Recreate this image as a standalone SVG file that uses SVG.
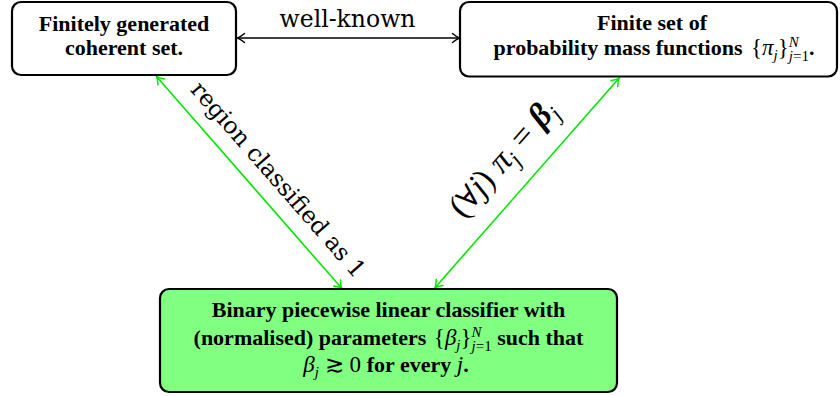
<svg xmlns="http://www.w3.org/2000/svg" width="840" height="396" viewBox="0 0 840 396">
  <style>
    .box { fill: #ffffff; stroke: #000000; stroke-width: 2.2; }
    .box.green { fill: #80ff80; }
    .b { font-family: "Liberation Serif", "DejaVu Serif", serif; font-weight: bold; font-size: 22px; fill: #000; }
    .m { font-family: "Liberation Serif", "DejaVu Serif", serif; font-weight: normal; font-style: normal; font-size: 23px; }
    .mi { font-family: "Liberation Serif", "DejaVu Serif", serif; font-weight: normal; font-style: italic; font-size: 23px; }
    .s { font-size: 15px; }
    .lbl { font-family: "DejaVu Serif", serif; font-size: 23.5px; fill: #000; }
    .eq { font-family: "Liberation Serif", "DejaVu Serif", serif; font-size: 34px; fill: #000; }
    .eq .it { font-style: italic; }
    .eq .bi { font-style: italic; font-weight: bold; }
    .eq .sub { font-style: italic; font-size: 23px; }
    .link { fill: none; stroke-width: 1.6; }
    .link.black { stroke: #000; marker-start: url(#tipK); marker-end: url(#tipK); }
    .link.green { stroke: #00e600; marker-start: url(#tipG); marker-end: url(#tipG); }
  </style>
  <defs>
    <marker id="tipK" markerUnits="userSpaceOnUse" markerWidth="14" markerHeight="14" refX="0" refY="0" orient="auto-start-reverse" overflow="visible">
      <path d="M-7,-4.5 C-4,-2 -1.5,-0.5 0,0 C-1.5,0.5 -4,2 -7,4.5" fill="none" stroke="#000" stroke-width="1.5" stroke-linecap="round"/>
    </marker>
    <marker id="tipG" markerUnits="userSpaceOnUse" markerWidth="14" markerHeight="14" refX="0" refY="0" orient="auto-start-reverse" overflow="visible">
      <path d="M-7,-4.5 C-4,-2 -1.5,-0.5 0,0 C-1.5,0.5 -4,2 -7,4.5" fill="none" stroke="#00e600" stroke-width="1.5" stroke-linecap="round"/>
    </marker>
  </defs>

  <!-- connectors -->
  <g id="connectors">
    <line class="link black" x1="237.5" y1="38" x2="459.5" y2="38"/>
    <text class="lbl" x="347.5" y="27" text-anchor="middle" font-size="24">well-known</text>

    <line class="link green" x1="156.7" y1="76.7" x2="341.7" y2="288.3"/>
    <text class="lbl" text-anchor="middle" transform="translate(272.3,184.8) rotate(48.8)">region classified as 1</text>

    <line class="link green" x1="435" y1="287.7" x2="619" y2="78.3"/>
    <text class="eq" text-anchor="middle" transform="translate(510.7,165.3) rotate(-48.7)">(<tspan font-size="30">∀</tspan><tspan class="it">j</tspan>)<tspan class="it" dx="9">π</tspan><tspan class="sub" dy="7">j</tspan><tspan dx="9" dy="-7">=</tspan><tspan class="bi" dx="9">β</tspan><tspan class="sub" dy="7">j</tspan></text>
  </g>

  <!-- finitely generated coherent set -->
  <g id="coherent">
    <rect class="box" x="12" y="2" width="224" height="73" rx="9"/>
    <text class="b" x="124" y="31" text-anchor="middle">Finitely generated</text>
    <text class="b" x="124" y="55" text-anchor="middle">coherent set.</text>
  </g>

  <!-- set of probability mass functions -->
  <g id="pmfs">
    <rect class="box" x="460" y="2" width="377" height="74.5" rx="9"/>
    <text class="b" x="652" y="30" text-anchor="middle">Finite set of</text>
    <text class="b" x="654" y="55" text-anchor="middle">probability mass functions <tspan class="m" dx="3">{</tspan><tspan class="mi">π</tspan><tspan class="mi s" dy="5">j</tspan><tspan class="m" dy="-5">}</tspan><tspan class="mi s" dy="-8">N</tspan><tspan class="mi s" dx="-10" dy="14">j</tspan><tspan class="m s">=1</tspan><tspan dy="-6">.</tspan></text>
  </g>

  <!-- piecewise linear classifier -->
  <g id="classifier">
    <rect class="box green" x="160" y="289" width="457" height="103" rx="9"/>
    <text class="b" x="388.5" y="317" text-anchor="middle">Binary piecewise linear classifier with</text>
    <text class="b" x="388.5" y="345" text-anchor="middle">(normalised) parameters <tspan class="m" dx="2">{</tspan><tspan class="mi">β</tspan><tspan class="mi s" dy="5">j</tspan><tspan class="m" dy="-5">}</tspan><tspan class="mi s" dy="-8">N</tspan><tspan class="mi s" dx="-10" dy="14">j</tspan><tspan class="m s">=1</tspan><tspan dy="-6"> such that</tspan></text>
    <text class="b" x="386" y="372" text-anchor="middle"><tspan class="mi">β</tspan><tspan class="mi s" dy="5">j</tspan><tspan class="m" dy="-5"> ≳ 0 </tspan>for every <tspan class="mi">j</tspan>.</text>
  </g>
</svg>
